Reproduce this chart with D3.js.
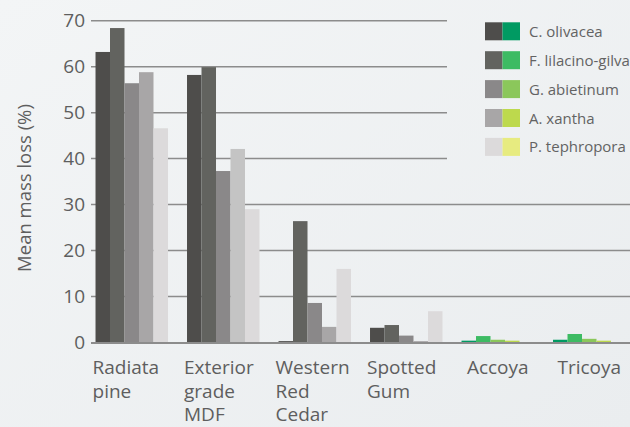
<!DOCTYPE html>
<html>
<head>
<meta charset="utf-8">
<script src="https://cdn.jsdelivr.net/npm/d3@7"></script>
<style>
  body { margin: 0; background: #eef1f2; }
  svg { display: block; font-family: "Open Sans", sans-serif; }
</style>
</head>
<body>
<svg id="chart" width="630" height="427"></svg>
<script>
// wood types along the x axis (label lines split on '|')
let woods = ['Radiata|pine', 'Exterior|grade|MDF', 'Western|Red|Cedar', 'Spotted|Gum', 'Accoya', 'Tricoya'];
// the five fungi
let fungi = ['C. olivacea', 'F. lilacino-gilva', 'G. abietinum', 'A. xantha', 'P. tephropora'];
// mean mass loss (%) per fungus, one value per wood
let cOlivacea    = [63.2, 58.2, 0.3, 3.2, 0.4, 0.6];
let fLilacino    = [68.4, 59.9, 26.4, 3.8, 1.4, 1.85];
let gAbietinum   = [56.4, 37.3, 8.6, 1.5, 0.6, 0.8];
let aXantha      = [58.8, 42.1, 3.4, 0.3, 0.4, 0.4];
let pTephropora  = [46.6, 29.0, 16.0, 6.8, 0, 0];
let yTicks = [0, 10, 20, 30, 40, 50, 60, 70];

let seriesValues = [cOlivacea, fLilacino, gAbietinum, aXantha, pTephropora];

// untreated woods are shown in greys, modified woods in greens
let greys  = ['#4e4d4b', '#62635f', '#8a8889', '#a8a6a7', '#dcdadb'];
let greens = ['#009a62', '#3dbb63', '#8bc75b', '#bdd94d', '#e7eb80'];
let greenWoods = ['Accoya', 'Tricoya'];

let svg = d3.select('#chart');

// soft background
let grad = svg.append('defs').append('linearGradient')
    .attr('id', 'bg').attr('x1', 0).attr('y1', 0).attr('x2', 1).attr('y2', 1);
grad.append('stop').attr('offset', '0%').attr('stop-color', '#f3f5f6');
grad.append('stop').attr('offset', '100%').attr('stop-color', '#eaedef');
svg.append('rect').attr('width', 630).attr('height', 427).attr('fill', 'url(#bg)');

let x = d3.scaleBand().domain(woods).range([86, 635]).paddingInner(0.208).paddingOuter(0.104);
let xInner = d3.scaleBand().domain(fungi).range([0, x.bandwidth()]);
let y = d3.scaleLinear().domain([0, 70]).range([342.5, 20.7]);

let gridLeft = 91;

// gridlines (the top ones stop short of the legend)
svg.append('g').selectAll('line')
    .data(yTicks.filter(t => t > 0))
    .enter().append('line')
    .attr('x1', gridLeft)
    .attr('x2', t => t >= 40 ? 447 : 630)
    .attr('y1', t => y(t)).attr('y2', t => y(t))
    .attr('stroke', '#8c8c8c').attr('stroke-width', 1.5);

// bars
let rows = [];
woods.forEach((w, i) => {
    fungi.forEach((f, j) => {
        rows.push({ wood: w, fungus: f, j: j, value: seriesValues[j][i] });
    });
});

let barColor = (d) => {
    let name = d.wood.replace(/\|/g, ' ');
    if (greenWoods.includes(name)) return greens[d.j];
    if (name === 'Exterior grade MDF' && d.fungus === 'A. xantha') return '#c4c4c4';
    return greys[d.j];
};

svg.append('g').selectAll('rect')
    .data(rows)
    .enter().append('rect')
    .attr('x', d => x(d.wood) + xInner(d.fungus))
    .attr('width', xInner.bandwidth())
    .attr('y', d => y(d.value))
    .attr('height', d => y(0) - y(d.value))
    .attr('fill', barColor);

// zero line over the bars
svg.append('line')
    .attr('x1', gridLeft).attr('x2', 630)
    .attr('y1', y(0) + 0.5).attr('y2', y(0) + 0.5)
    .attr('stroke', '#8c8c8c').attr('stroke-width', 2);

// y axis labels
let yAxis = svg.append('g')
    .attr('transform', 'translate(' + gridLeft + ',0)')
    .call(d3.axisLeft(y).tickValues(yTicks).tickSize(0).tickPadding(6));
yAxis.select('.domain').remove();
yAxis.selectAll('text')
    .attr('font-family', '"Open Sans", sans-serif')
    .attr('font-size', 19)
    .attr('fill', '#5e5e5e');

svg.append('text')
    .attr('transform', 'translate(31,188) rotate(-90)')
    .attr('text-anchor', 'middle')
    .attr('font-size', 18.5)
    .attr('fill', '#5e5e5e')
    .text('Mean mass loss (%)');

// x labels: wrapped ones sit left aligned, one-word ones are centred
let multi = (w) => w.indexOf('|') >= 0;
let labelX = (w) => multi(w) ? x(w) - 3 : x(w) + x.bandwidth() / 2;

let xLabels = svg.append('g').selectAll('text')
    .data(woods)
    .enter().append('text')
    .attr('x', labelX)
    .attr('y', 374)
    .attr('text-anchor', w => multi(w) ? 'start' : 'middle')
    .attr('font-size', 19)
    .attr('fill', '#5e5e5e');
xLabels.selectAll('tspan')
    .data(w => w.split('|').map(s => ({ s: s, w: w })))
    .enter().append('tspan')
    .attr('x', d => labelX(d.w))
    .attr('dy', (d, i) => i === 0 ? 0 : 23.5)
    .text(d => d.s);

// legend: grey + green swatch per fungus
let legend = svg.append('g').selectAll('g')
    .data(fungi)
    .enter().append('g')
    .attr('transform', (f, i) => 'translate(485,' + (22.3 + i * 28.9) + ')');
legend.append('rect').attr('width', 17.5).attr('height', 18).attr('fill', (f, i) => greys[i]);
legend.append('rect').attr('x', 17.5).attr('width', 17.5).attr('height', 18).attr('fill', (f, i) => greens[i]);
legend.append('text')
    .attr('x', 44).attr('y', 14.5)
    .attr('font-size', 15)
    .attr('fill', '#636363')
    .text(f => f);
</script>
</body>
</html>
